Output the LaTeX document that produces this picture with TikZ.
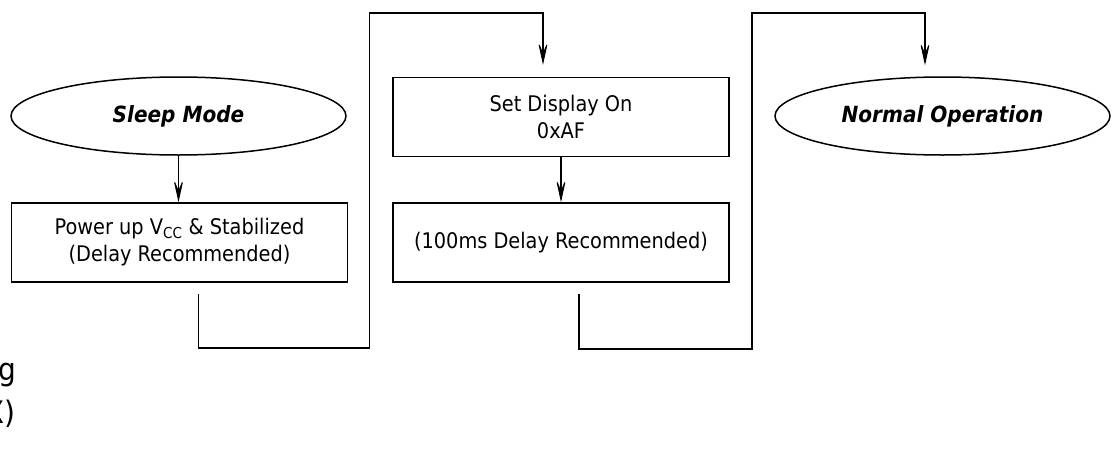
\documentclass[tikz,border=0pt]{standalone}
\usepackage{fontspec}
\setmainfont{DejaVu Sans Condensed}
\usetikzlibrary{shapes.geometric,arrows.meta,calc}
\begin{document}
\begin{tikzpicture}[x=1pt,y=1pt,
  every node/.style={font=\fontsize{21.5}{27}\selectfont},
  oval/.style={draw,ellipse,line width=1.5pt,minimum width=335pt,minimum height=78pt,inner sep=0pt,font=\fontsize{22.3}{27}\selectfont\bfseries\itshape},
  stepbox/.style={draw,rectangle,line width=1.5pt,minimum width=336pt,minimum height=79pt,inner sep=0pt,align=center},
  link/.style={line width=1.5pt},
  arr/.style={link,-{Stealth[length=25pt,width=11pt,inset=13pt,line width=1pt]}},
  cut/.style={font=\fontsize{31}{43}\selectfont,anchor=base east,inner sep=0pt}]
\useasboundingbox (0,0) rectangle (1117,-453);
\fill[white] (0,0) rectangle (1117,-453);
\node[oval] (sleep) at (178.5,-116) {Sleep Mode};
\node[oval] (normal) at (942.5,-116) {Normal Operation};
\node[stepbox] (power) at (179.5,-242.5) {Power up V\textsubscript{CC} \& Stabilized\\(Delay Recommended)};
\node[stepbox] (disp) at (561,-117) {Set Display On\\0xAF};
\node[stepbox] (delay) at (561,-242.5) {(100ms Delay Recommended)};
\node[cut] (frag1) at (16,-380) {g};
\node[cut] (frag2) at (16,-423) {X)};
\coordinate (c1s) at ($(power.south)+(19,-11)$);
\coordinate (c1e) at ($(disp.north)+(-18,12)$);
\coordinate (c2s) at ($(delay.south)+(18,-11)$);
\coordinate (c2e) at ($(normal.north)+(-17.5,11)$);
\draw[arr] (sleep.south) -- (sleep.south |- power.north);
\draw[arr] (disp.south) -- (delay.north);
\draw[arr] (c1s) -- ++(0,-54) -| ++(171,335) -| (c1e);
\draw[arr] (c2s) -- ++(0,-55) -| ++(173,336) -| (c2e);
\end{tikzpicture}
\end{document}
